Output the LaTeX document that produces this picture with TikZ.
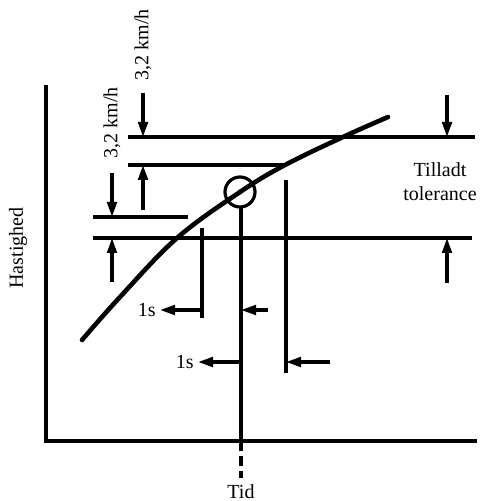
\documentclass[tikz,border=0pt]{standalone}
\usepackage{fontspec}
\setmainfont{Liberation Serif}
\usetikzlibrary{arrows.meta, positioning, calc}

\begin{document}
\begin{tikzpicture}[
  x=0.5pt, y=-0.5pt,
  axisline/.style={line width=1.8pt},
  tolline/.style={line width=1.7pt},
  timeline/.style={line width=1.7pt},
  curveline/.style={line width=2.3pt, line cap=round},
  dimarrow/.style={
    line width=1.6pt,
    -{Triangle[length=7.5pt,width=4.8pt]}},
  lbl/.style={font=\normalsize, inner sep=1pt},
]
\useasboundingbox (0,0) rectangle (483,501);

% axes
\coordinate (ytop) at (46,85);
\coordinate (orig) at (46,441);
\coordinate (xend) at (477,441);
\draw[axisline] (ytop) -- (orig) -- (xend);
\node[lbl, rotate=90] (ylab) at (18,248) {Hastighed};

% tolerance lines
\coordinate (a1) at (128,137); \coordinate (a2) at (475,137);
\coordinate (b1) at (128,165); \coordinate (b2) at (286,165);
\coordinate (c1) at (93,217);  \coordinate (c2) at (188,217);
\coordinate (d1) at (93,238);  \coordinate (d2) at (472,238);
\draw[tolline] (a1) -- (a2);
\draw[tolline] (b1) -- (b2);
\draw[tolline] (c1) -- (c2);
\draw[tolline] (d1) -- (d2);

% speed curve
\draw[curveline] plot[smooth, tension=0.6] coordinates
  {(82,340) (120,297) (177,238) (240,192) (285,165) (343,137) (388,117)};

% measuring point
\node[circle, draw, line width=1.6pt, minimum size=15pt, inner sep=0pt]
  (mark) at (240,192) {};
\fill (mark.center) circle (2.5);

% time lines
\coordinate (tbot) at (241,441);
\coordinate (tend) at (241,478);
\draw[timeline] (241,207) -- (tbot);
\draw[timeline, dash pattern=on 5pt off 2.5pt] (tbot) -- (tend);
\node[lbl] (tid) at (241,492) {Tid};

\coordinate (p1) at (202,228); \coordinate (p2) at (202,318);
\coordinate (q1) at (286,180); \coordinate (q2) at (286,373);
\draw[timeline] (p1) -- (p2);
\draw[timeline] (q1) -- (q2);

% 3,2 km/h arrows (top pair)
\draw[dimarrow] (143,93) -- (143,137);
\draw[dimarrow] (143,210) -- (143,165);
\node[lbl, rotate=90] (kmtop) at (143,45) {3,2 km/h};

% 3,2 km/h arrows (left pair)
\draw[dimarrow] (112,173) -- (112,217);
\draw[dimarrow] (112,282) -- (112,238);
\node[lbl, rotate=90] (kmleft) at (112,123) {3,2 km/h};

% tolerance arrows
\draw[dimarrow] (447,95) -- (447,137);
\draw[dimarrow] (447,283) -- (447,238);
\node[lbl, align=center] (tol) at (440,182) {Tilladt\\tolerance};

% 1s arrows
\draw[dimarrow] (202,310) -- (160,310);
\draw[dimarrow] (268,310) -- (241,310);
\node[lbl, left=1pt of {(160,310)}] (sa) {1s};
\draw[dimarrow] (241,362) -- (198,362);
\draw[dimarrow] (330,362) -- (286,362);
\node[lbl, left=1pt of {(198,362)}] (sb) {1s};

\end{tikzpicture}
\end{document}
